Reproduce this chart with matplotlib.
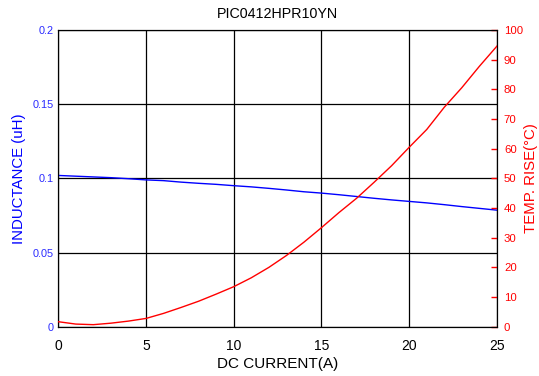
import matplotlib
matplotlib.use("Agg")
import matplotlib.pyplot as plt

plt.rcParams['font.family'] = ['Liberation Sans', 'DejaVu Sans']

current = list(range(0, 26))
inductance = [0.1020, 0.1015, 0.1010, 0.1005, 0.0998, 0.0990, 0.0985, 0.0975,
              0.0967, 0.0960, 0.0951, 0.0943, 0.0933, 0.0922, 0.0910, 0.0901,
              0.0890, 0.0878, 0.0866, 0.0855, 0.0845, 0.0835, 0.0823, 0.0810,
              0.0798, 0.0786]
temp_rise = [1.7, 0.9, 0.7, 1.2, 1.9, 2.8, 4.5, 6.5, 8.6, 11.0, 13.5, 16.5, 20.0,
             24.0, 28.5, 33.4, 38.5, 43.3, 48.7, 54.3, 60.5, 66.5, 74.0, 80.6,
             87.8, 94.6]

x_ticks = [0, 5, 10, 15, 20, 25]
l_ticks = [0, 0.05, 0.1, 0.15, 0.2]
l_labels = ['0', '0.05', '0.1', '0.15', '0.2']
r_ticks = list(range(0, 101, 10))

BLUE = '#0000ff'
TICK_BLUE = '#2a2aff'
RED = '#ff0000'

fig = plt.figure(figsize=(5.39, 3.76), dpi=100)
ax = fig.add_axes([0.108, 0.131, 0.814, 0.789])
ax2 = ax.twinx()

ax.plot(current, inductance, color=BLUE, lw=1.0, zorder=3)
ax2.plot(current, temp_rise, color=RED, lw=1.0, zorder=3)

ax.set_xlim(0, 25)
ax.set_ylim(0, 0.2)
ax2.set_ylim(0, 100)
ax.set_xticks(x_ticks)
ax.set_yticks(l_ticks)
ax.set_yticklabels(l_labels)
ax2.set_yticks(r_ticks)

ax.grid(True, color='black', lw=0.9)
ax.tick_params(axis='x', length=0, pad=9, labelsize=10, colors='black')
ax.tick_params(axis='y', length=0, pad=3, labelsize=7.8, labelcolor=TICK_BLUE)
ax2.tick_params(axis='y', direction='in', length=4, width=1, color=RED,
                labelcolor=RED, labelsize=8.2, pad=5)

for sp in ax.spines.values():
    sp.set_color('black')
for sp in ax2.spines.values():
    sp.set_color('black')

ax.set_xlabel('DC CURRENT(A)', fontsize=11, labelpad=3)
ax.set_ylabel('INDUCTANCE (uH)', fontsize=10.8, color=BLUE, labelpad=5)
ax2.set_ylabel('TEMP. RISE(°C)', fontsize=10.8, color=RED)
ax2.yaxis.set_label_coords(1.062, 0.5)
ax.set_title('PIC0412HPR10YN', fontsize=10.3, pad=9)

fig.savefig('out.png', dpi=100)
